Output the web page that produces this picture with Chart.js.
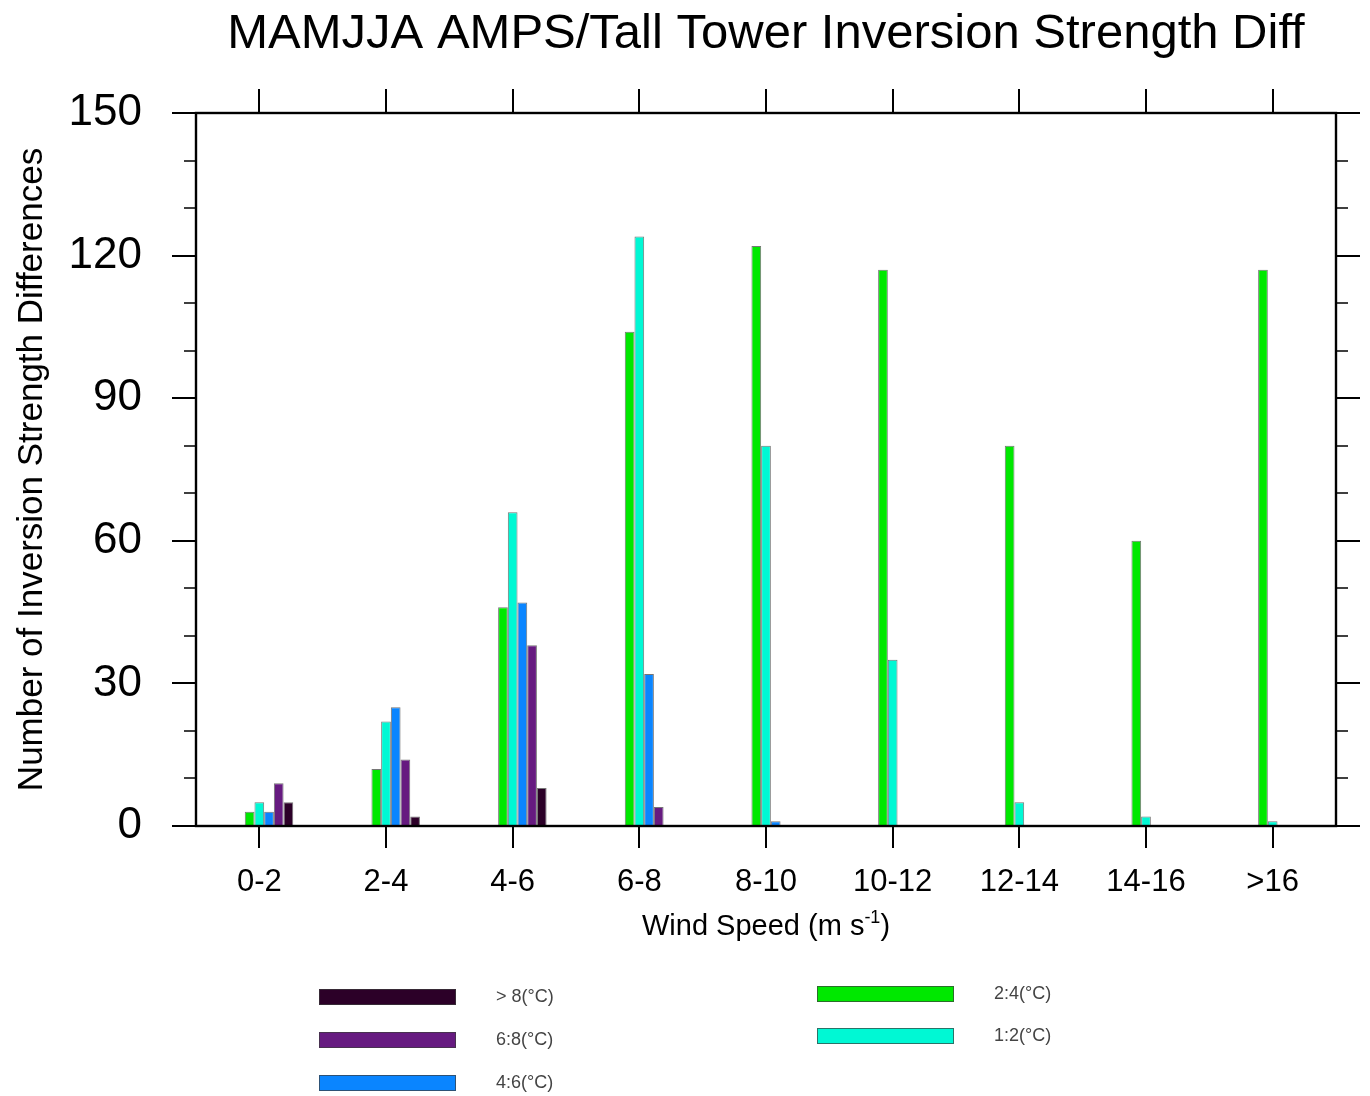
<!DOCTYPE html>
<html>
<head>
<meta charset="utf-8">
<title>MAMJJA AMPS/Tall Tower Inversion Strength Diff</title>
<script src="https://cdn.jsdelivr.net/npm/chart.js@4.4.1/dist/chart.umd.min.js"></script>
<style>
  html, body { margin: 0; padding: 0; background: #fff; }
  #wrap { width: 1370px; height: 1096px; }
</style>
</head>
<body>
<div id="wrap"><canvas id="inv-chart" width="1370" height="1096"></canvas></div>
<script>
// -------------------------
// DATA
// -------------------------
const windBins = ['0-2', '2-4', '4-6', '6-8', '8-10', '10-12', '12-14', '14-16', '>16'];

// counts per inversion strength class
const diff2to4 = [3, 12, 46, 104, 122, 117, 80, 60, 117];
const diff1to2 = [5, 22, 66, 124, 80, 35, 5, 2, 1];
const diff4to6 = [3, 25, 47, 32, 1, 0, 0, 0, 0];
const diff6to8 = [9, 14, 38, 4, 0, 0, 0, 0, 0];
const diffOver8 = [5, 2, 8, 0, 0, 0, 0, 0, 0];

const yMajorTicks = [0, 30, 60, 90, 120, 150];
const yMinorTicks = [10, 20, 40, 50, 70, 80, 100, 110, 130, 140];

const titleText = 'MAMJJA AMPS/Tall Tower Inversion Strength Diff';
const yTitleText = 'Number of Inversion Strength Differences';

// -------------------------
// Styling
// -------------------------
const FONT = '"Liberation Sans", Arial, Helvetica, sans-serif';
const OUTLINE = 'rgba(45,45,45,0.65)';

const series = [
  { label: '2:4(°C)',  data: diff2to4,  color: '#00E800' },
  { label: '1:2(°C)',  data: diff1to2,  color: '#00F8D4' },
  { label: '4:6(°C)',  data: diff4to6,  color: '#0A85FF' },
  { label: '6:8(°C)',  data: diff6to8,  color: '#661A80' },
  { label: '> 8(°C)',  data: diffOver8, color: '#2C0028' }
];

// two empty slots in front so the group sits to the right of the tick
const spacer = () => ({ label: '', data: [], backgroundColor: 'transparent', borderWidth: 0 });

const datasets = [spacer(), spacer()].concat(series.map(s => ({
  label: s.label,
  data: s.data,
  backgroundColor: s.color,
  borderColor: OUTLINE,
  borderWidth: 1,
  borderSkipped: false
})));

// legend layout: [label, column x, row y]
const legendRows = [
  ['> 8(°C)', 319, 997],
  ['6:8(°C)', 319, 1040],
  ['4:6(°C)', 319, 1083],
  ['2:4(°C)', 817, 994],
  ['1:2(°C)', 817, 1036]
];

// -------------------------
// Frame, ticks, titles, legend
// -------------------------
const nclDecor = {
  id: 'nclDecor',
  afterDraw(chart) {
    const { ctx, chartArea: a, scales: { x, y } } = chart;
    ctx.save();
    ctx.strokeStyle = '#000';
    ctx.lineCap = 'butt';

    // y ticks, outward on both sides
    const yTick = (v, len, w) => {
      const py = Math.round(y.getPixelForValue(v));
      ctx.lineWidth = w;
      ctx.beginPath();
      ctx.moveTo(a.left - len, py); ctx.lineTo(a.left, py);
      ctx.moveTo(a.right, py); ctx.lineTo(a.right + len, py);
      ctx.stroke();
    };
    yMajorTicks.forEach(v => yTick(v, 24, 2.2));
    yMinorTicks.forEach(v => yTick(v, 12, 1.6));

    // x ticks, outward top and bottom
    ctx.lineWidth = 2;
    windBins.forEach((_, i) => {
      const px = Math.round(x.getPixelForValue(i));
      ctx.beginPath();
      ctx.moveTo(px, a.bottom); ctx.lineTo(px, a.bottom + 22);
      ctx.moveTo(px, a.top - 24); ctx.lineTo(px, a.top);
      ctx.stroke();
    });

    // frame
    ctx.lineWidth = 2.4;
    ctx.strokeRect(a.left, a.top, a.right - a.left, a.bottom - a.top);

    const cx = (a.left + a.right) / 2;
    ctx.fillStyle = '#000';

    // title
    ctx.font = `49px ${FONT}`;
    ctx.textAlign = 'center';
    ctx.textBaseline = 'middle';
    ctx.fillText(titleText, cx, 34);

    // y title
    ctx.save();
    ctx.translate(32, (a.top + a.bottom) / 2);
    ctx.rotate(-Math.PI / 2);
    ctx.font = `35px ${FONT}`;
    ctx.fillText(yTitleText, 0, 0);
    ctx.restore();

    // x title with superscript
    const main = 'Wind Speed (m s', sup = '-1', close = ')';
    const big = `29px ${FONT}`, small = `18px ${FONT}`;
    ctx.textAlign = 'left';
    ctx.textBaseline = 'alphabetic';
    ctx.font = big;
    const wMain = ctx.measureText(main).width, wClose = ctx.measureText(close).width;
    ctx.font = small;
    const wSup = ctx.measureText(sup).width;
    let tx = cx - (wMain + wSup + wClose) / 2;
    const base = 935;
    ctx.font = big; ctx.fillText(main, tx, base); tx += wMain;
    ctx.font = small; ctx.fillText(sup, tx, base - 12); tx += wSup;
    ctx.font = big; ctx.fillText(close, tx, base);

    // legend
    ctx.font = `18px ${FONT}`;
    ctx.textBaseline = 'middle';
    legendRows.forEach(([label, lx, ly]) => {
      const s = series.find(d => d.label === label);
      ctx.fillStyle = s.color;
      ctx.fillRect(lx, ly - 8, 137, 16);
      ctx.lineWidth = 1;
      ctx.strokeStyle = 'rgba(60,60,60,0.7)';
      ctx.strokeRect(lx + 0.5, ly - 7.5, 136, 15);
      ctx.fillStyle = '#444';
      ctx.fillText(s.label, lx + 177, ly);
    });

    ctx.restore();
  }
};

// -------------------------
// Chart
// -------------------------
new Chart(document.getElementById('inv-chart'), {
  type: 'bar',
  data: { labels: windBins, datasets },
  options: {
    responsive: false,
    animation: false,
    layout: { padding: { top: 113, right: 34, bottom: 151, left: 0 } },
    datasets: { bar: { barPercentage: 1.0, categoryPercentage: 0.536 } },
    plugins: { legend: { display: false }, tooltip: { enabled: false }, title: { display: false } },
    scales: {
      x: {
        grid: { display: false, drawTicks: false },
        border: { display: false },
        ticks: { color: '#000', font: { family: FONT, size: 31 }, padding: 38, maxRotation: 0, autoSkip: false },
        afterFit: s => { s.height = 119; }
      },
      y: {
        min: 0,
        max: 150,
        grid: { display: false, drawTicks: false },
        border: { display: false },
        ticks: { color: '#000', font: { family: FONT, size: 44 }, padding: 54 },
        afterBuildTicks: s => { s.ticks = yMajorTicks.map(v => ({ value: v })); },
        afterFit: s => { s.width = 196; }
      }
    }
  },
  plugins: [nclDecor]
});
</script>
</body>
</html>
